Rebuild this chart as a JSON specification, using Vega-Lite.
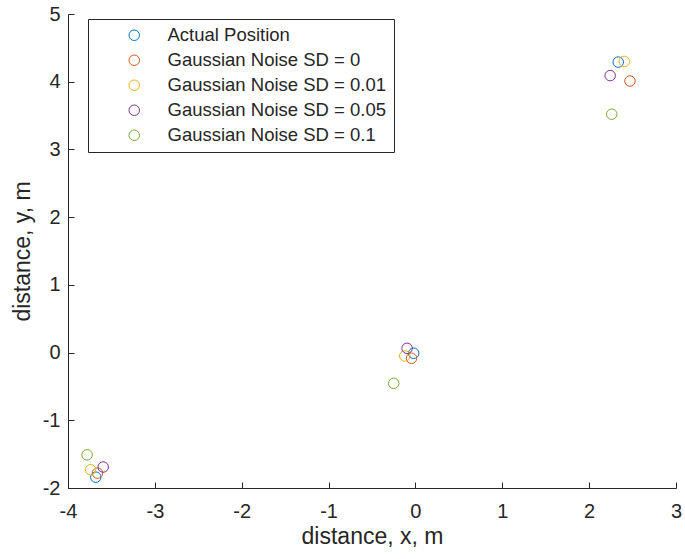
{
  "$schema": "https://vega.github.io/schema/vega-lite/v6.json",
  "width": 608,
  "height": 474,
  "autosize": "none",
  "padding": {"left": 68, "top": 14, "right": 9, "bottom": 71},
  "background": "white",
  "config": {"view": {"stroke": null}, "font": "Liberation Sans"},
  "data": {"values": [
    {"series": "Actual Position", "x": -3.68, "y": -1.84},
    {"series": "Actual Position", "x": -0.02, "y": -0.01},
    {"series": "Actual Position", "x": 2.335, "y": 4.29},
    {"series": "Gaussian Noise SD = 0", "x": -3.66, "y": -1.78},
    {"series": "Gaussian Noise SD = 0", "x": -0.045, "y": -0.084},
    {"series": "Gaussian Noise SD = 0", "x": 2.47, "y": 4.01},
    {"series": "Gaussian Noise SD = 0.01", "x": -3.74, "y": -1.73},
    {"series": "Gaussian Noise SD = 0.01", "x": -0.123, "y": -0.05},
    {"series": "Gaussian Noise SD = 0.01", "x": 2.404, "y": 4.30},
    {"series": "Gaussian Noise SD = 0.05", "x": -3.595, "y": -1.69},
    {"series": "Gaussian Noise SD = 0.05", "x": -0.096, "y": 0.063},
    {"series": "Gaussian Noise SD = 0.05", "x": 2.242, "y": 4.09},
    {"series": "Gaussian Noise SD = 0.1", "x": -3.78, "y": -1.51},
    {"series": "Gaussian Noise SD = 0.1", "x": -0.25, "y": -0.454},
    {"series": "Gaussian Noise SD = 0.1", "x": 2.26, "y": 3.52}
  ]},
  "mark": {"type": "point", "shape": "circle", "filled": false, "size": 110, "strokeWidth": 1, "opacity": 1},
  "encoding": {
    "x": {
      "field": "x", "type": "quantitative",
      "scale": {"domain": [-4, 3], "nice": false, "zero": false},
      "axis": {"title": "distance, x, m", "values": [-4, -3, -2, -1, 0, 1, 2, 3], "grid": false,
        "labelExpr": "'' + datum.value",
        "tickSize": -6, "domainColor": "#262626", "tickColor": "#262626", "labelColor": "#262626",
        "titleColor": "#262626", "labelFontSize": 20, "titleFontSize": 23, "titleFontWeight": "normal",
        "labelPadding": 19, "titlePadding": 4, "labelFlush": false, "labelOverlap": false}
    },
    "y": {
      "field": "y", "type": "quantitative",
      "scale": {"domain": [-2, 5], "nice": false, "zero": false},
      "axis": {"title": "distance, y, m", "values": [-2, -1, 0, 1, 2, 3, 4, 5], "grid": false,
        "labelExpr": "'' + datum.value",
        "tickSize": -6, "domainColor": "#262626", "tickColor": "#262626", "labelColor": "#262626",
        "titleColor": "#262626", "labelFontSize": 20, "titleFontSize": 23, "titleFontWeight": "normal",
        "labelPadding": 14, "titlePadding": 8, "labelFlush": false, "labelOverlap": false}
    },
    "color": {
      "field": "series", "type": "nominal",
      "scale": {
        "domain": ["Actual Position", "Gaussian Noise SD = 0", "Gaussian Noise SD = 0.01", "Gaussian Noise SD = 0.05", "Gaussian Noise SD = 0.1"],
        "range": ["#0072BD", "#D95319", "#EDB120", "#7E2F8E", "#77AC30"]
      },
      "legend": {
        "orient": "none", "legendX": 20, "legendY": 5, "title": null,
        "strokeColor": "#262626", "fillColor": "white", "padding": 7,
        "symbolOffset": 30, "labelOffset": 24, "labelFontSize": 18.5, "labelColor": "#262626",
        "labelLimit": 400, "rowPadding": 6, "symbolSize": 110, "symbolStrokeWidth": 1, "symbolType": "circle"
      }
    }
  }
}
